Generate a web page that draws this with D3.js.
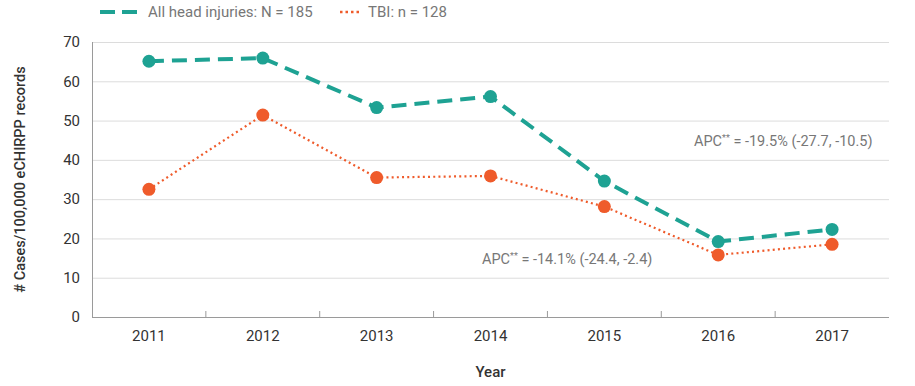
<!DOCTYPE html>
<html>
<head>
<meta charset="utf-8">
<script src="https://cdn.jsdelivr.net/npm/d3@7"></script>
<style>
  body { margin: 0; background: #fff; }
  text { font-family: "Roboto", sans-serif; }
  .grid line { stroke: #dcdcdc; }
  .axis path, .axis line { stroke: #9a9a9a; }
  .axis text { fill: #333; font-size: 15px; }
</style>
</head>
<body>
<div id="chart"></div>
<script>
const years = ["2011", "2012", "2013", "2014", "2015", "2016", "2017"];
const allHead = [65.1, 65.9, 53.3, 56.1, 34.6, 19.2, 22.3];
const tbi = [32.5, 51.4, 35.5, 35.9, 28.1, 15.8, 18.5];
const yTicks = [0, 10, 20, 30, 40, 50, 60, 70];
const seriesNames = ["All head injuries: N = 185", "TBI: n = 128"];
const apcLabels = ["-19.5% (-27.7, -10.5)", "-14.1% (-24.4, -2.4)"];

const teal = "#1ea293", orange = "#ef5b2b";
const margin = { top: 42, right: 26, bottom: 69, left: 92 };
const width = 915 - margin.left - margin.right;
const height = 386 - margin.top - margin.bottom;

let svg = d3.select("#chart").append("svg").attr("width", 915).attr("height", 386);
let g = svg.append("g").attr("transform", "translate(" + margin.left + "," + margin.top + ")");

let x = d3.scaleBand().domain(years).range([0, width]);
let y = d3.scaleLinear().domain([0, 70]).range([height, 0]);

// gridlines
g.append("g").attr("class", "grid")
    .call(d3.axisLeft(y).tickValues(yTicks).tickSize(-width).tickFormat(""))
    .call(a => a.select(".domain").remove());

// y axis
let yAxis = g.append("g").attr("class", "axis")
    .call(d3.axisLeft(y).tickValues(yTicks).tickSize(0).tickPadding(12));
yAxis.selectAll(".tick line").remove();
yAxis.select(".domain").attr("d", "M0.5," + height + "V0");

// x axis, ticks between the bands pointing up
let xAxis = g.append("g").attr("class", "axis").attr("transform", "translate(0," + height + ")")
    .call(d3.axisBottom(x).tickSize(0).tickPadding(13));
xAxis.select(".domain").attr("d", "M0," + 0.5 + "H" + width);
years.slice(1).forEach(yr => {
    xAxis.append("line").attr("x1", x(yr)).attr("x2", x(yr)).attr("y1", 0).attr("y2", -6);
});

let cx = d => x(d) + x.bandwidth() / 2;
let line = d3.line().x((d, i) => cx(years[i])).y(d => y(d));

// TBI series
g.append("path").datum(tbi).attr("d", line).attr("fill", "none")
    .attr("stroke", orange).attr("stroke-width", 2.2).attr("stroke-dasharray", "2,3.2");
g.selectAll(".tbi-dot").data(tbi).join("circle").attr("class", "tbi-dot")
    .attr("cx", (d, i) => cx(years[i])).attr("cy", d => y(d)).attr("r", 6.5).attr("fill", orange);

// All head injuries series
g.append("path").datum(allHead).attr("d", line).attr("fill", "none")
    .attr("stroke", teal).attr("stroke-width", 4).attr("stroke-dasharray", "15,8");
g.selectAll(".head-dot").data(allHead).join("circle").attr("class", "head-dot")
    .attr("cx", (d, i) => cx(years[i])).attr("cy", d => y(d)).attr("r", 6.5).attr("fill", teal);

// APC annotations
function apc(tx, ty, txt) {
    let t = g.append("text").attr("x", tx).attr("y", ty).attr("fill", "#777").attr("font-size", 14.5);
    t.append("tspan").text("APC");
    t.append("tspan").attr("dy", -5).attr("font-size", 9).text("**");
    t.append("tspan").attr("dy", 5).text(" = " + txt);
}
apc(602, 104, apcLabels[0]);
apc(390, 222, apcLabels[1]);

// axis titles
svg.append("text").attr("x", margin.left + width / 2).attr("y", 377).attr("text-anchor", "middle")
    .attr("font-size", 15).attr("font-weight", 500).attr("fill", "#333").text("Year");
svg.append("text").attr("transform", "translate(25," + (margin.top + height / 2) + ") rotate(-90)")
    .attr("text-anchor", "middle").attr("font-size", 14.5).attr("font-weight", 500).attr("fill", "#333")
    .text("# Cases/100,000 eCHIRPP records");

// legend
let leg = svg.append("g");
leg.append("line").attr("x1", 100).attr("x2", 137).attr("y1", 12).attr("y2", 12)
    .attr("stroke", teal).attr("stroke-width", 4).attr("stroke-dasharray", "15,7");
leg.append("text").attr("x", 148).attr("y", 17).attr("font-size", 15).attr("fill", "#777").text(seriesNames[0]);
leg.append("line").attr("x1", 340).attr("x2", 361).attr("y1", 12).attr("y2", 12)
    .attr("stroke", orange).attr("stroke-width", 2.5).attr("stroke-dasharray", "2.5,3");
leg.append("text").attr("x", 368).attr("y", 17).attr("font-size", 15).attr("fill", "#777").text(seriesNames[1]);
</script>
</body>
</html>
